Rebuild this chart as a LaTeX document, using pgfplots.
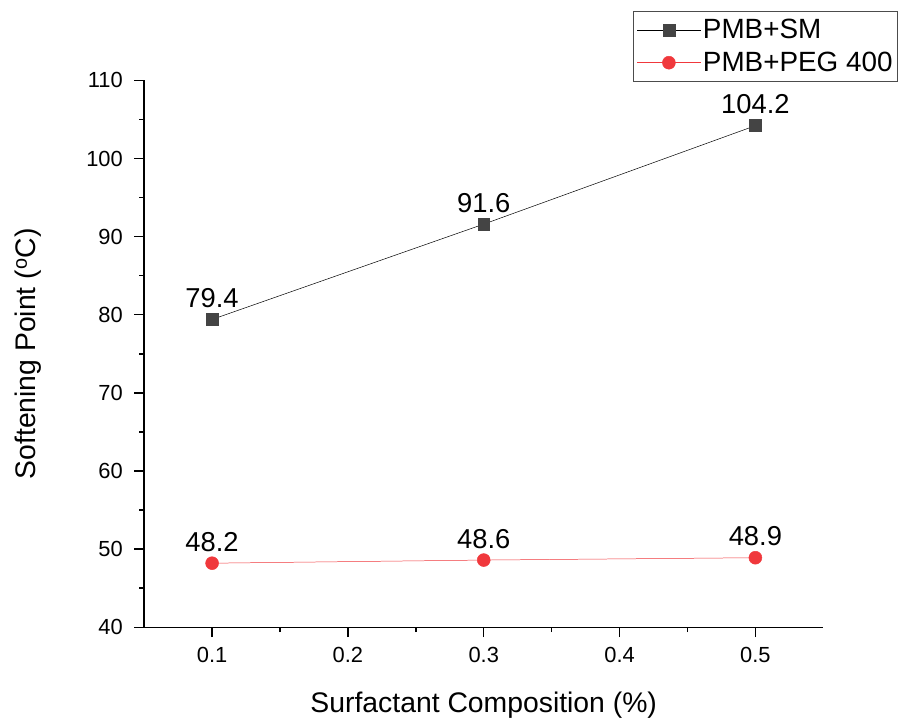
\documentclass[border=0pt]{standalone}
\usepackage{fontspec}
\setmainfont{Liberation Sans}
\usepackage{pgfplots}
\pgfplotsset{compat=1.18}
\definecolor{SMgray}{RGB}{68,68,68}
\definecolor{PEGred}{RGB}{240,56,60}
\begin{document}
\begin{tikzpicture}
\begin{axis}[
    scale only axis,
    width=683pt, height=550pt,
    xmin=0.05, xmax=0.55,
    ymin=40, ymax=110,
    xtick={0.1,0.2,0.3,0.4,0.5},
    ytick={40,50,...,110},
    minor x tick num=1,
    minor y tick num=1,
    axis x line*=bottom, axis y line*=left,
    axis line style={line width=1.5pt, -},
    tick style={line width=1.5pt, black},
    tick align=outside,
    major tick length=10pt, minor tick length=5pt,
    /pgf/number format/assume math mode=true,
    xticklabel style={/pgf/number format/fixed, /pgf/number format/precision=1, yshift=-7pt},
    yticklabel style={xshift=-8pt},
    tick label style={font=\fontsize{22}{24}\selectfont},
    xlabel={Surfactant Composition (\%)},
    ylabel={Softening Point (\textsuperscript{o}C)},
    label style={font=\fontsize{28.5}{30}\selectfont},
    xlabel style={yshift=-22pt},
    ylabel style={yshift=38pt},
    clip=false,
    nodes near coords,
    nodes near coords style={font=\fontsize{27.5}{30}\selectfont, black, yshift=8pt,
        /pgf/number format/fixed, /pgf/number format/precision=1, /pgf/number format/fixed zerofill},
    legend style={at={(1.110,1.127)}, anchor=north east, draw=black!70, line width=1pt,
        font=\fontsize{28}{30}\selectfont, legend cell align=left, row sep=8pt,
        inner xsep=3pt, inner ysep=6pt},
    legend image code/.code={
        \draw[#1, mark=none] (0pt,0pt) -- (64pt,0pt);
        \draw[#1, only marks] plot coordinates {(32pt,0pt)};
    },
]
\addplot[color=black, line width=0.5pt, mark=square*, mark size=6pt,
    mark options={fill=SMgray, draw=SMgray}]
    coordinates {(0.1,79.4) (0.3,91.6) (0.5,104.2)};
\addplot[color=PEGred, line width=0.5pt, mark=*, mark size=6.5pt,
    mark options={fill=PEGred, draw=PEGred}]
    coordinates {(0.1,48.2) (0.3,48.6) (0.5,48.9)};
\legend{PMB+SM, PMB+PEG 400}
\end{axis}
\path ([xshift=-12pt]current bounding box.south west) rectangle ([yshift=11pt]current bounding box.north east);
\end{tikzpicture}
\end{document}
